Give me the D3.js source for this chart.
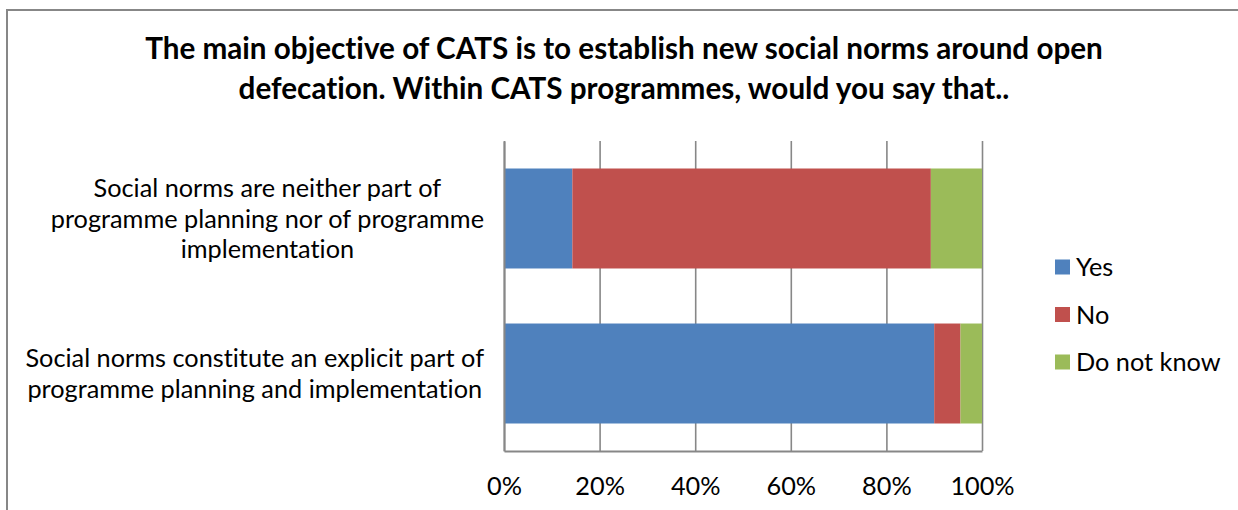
<!DOCTYPE html>
<html>
<head>
<meta charset="utf-8">
<script src="https://cdn.jsdelivr.net/npm/d3@7"></script>
<style>
  html, body { margin: 0; padding: 0; background: #ffffff; }
  svg { display: block; }
  text { font-family: Lato, "Open Sans", "Liberation Sans", sans-serif; fill: #000;
         font-variant-ligatures: none; font-feature-settings: "liga" 0, "clig" 0; }
</style>
</head>
<body>
<svg id="chart" width="1238" height="510"></svg>
<script>
// Survey answers, share of respondents per statement
const titleLines = [
  "The main objective of CATS is to establish new social norms around open",
  "defecation. Within CATS programmes, would you say that.."
];
const categories = [
  "Social norms are neither part of programme planning nor of programme implementation",
  "Social norms constitute an explicit part of programme planning and implementation"
];
const categoryLines = [
  ["Social norms are neither part of", "programme planning nor of programme", "implementation"],
  ["Social norms constitute an explicit part of", "programme planning and implementation"]
];
const seriesNames = ["Yes", "No", "Do not know"];
const seriesColors = ["#4F81BD", "#C0504D", "#9BBB59"];
const yesValues = [14.3, 90.0];
const noValues = [75.0, 5.5];
const dontKnowValues = [10.7, 4.5];
const tickValues = [0, 20, 40, 60, 80, 100];
const tickLabels = ["0%", "20%", "40%", "60%", "80%", "100%"];

const svg = d3.select("#chart");
const gridColor = "#878787";

// Plot area
const plot = { left: 504, right: 982, top: 141, bottom: 451 };

// Font size that makes a string span the given width
function fitSize(str, weight, width) {
  const t = svg.append("text").attr("font-size", 100).attr("font-weight", weight).text(str);
  const w = t.node().getComputedTextLength();
  t.remove();
  return 100 * width / w;
}
const bodySize = fitSize("programme planning and implementation", "normal", 455);
const titleSize = fitSize(titleLines[0], "bold", 958);

// Chart border
svg.append("rect")
  .attr("x", 7).attr("y", 10)
  .attr("width", 1300).attr("height", 600)
  .attr("fill", "none").attr("stroke", gridColor).attr("stroke-width", 2);

// Title
svg.append("g").selectAll("text")
  .data(titleLines)
  .join("text")
  .attr("x", 624)
  .attr("y", (d, i) => 59 + i * 40)
  .attr("text-anchor", "middle")
  .attr("font-weight", "bold")
  .attr("font-size", titleSize)
  .text(d => d);

const x = d3.scaleLinear().domain([0, 100]).range([plot.left, plot.right]);
const y = d3.scaleBand()
  .domain(categories)
  .range([plot.top, plot.bottom])
  .paddingInner(0.355)
  .paddingOuter(0.1774);

// Gridlines and bottom axis
const xAxis = d3.axisBottom(x)
  .tickValues(tickValues)
  .tickFormat((d, i) => tickLabels[i])
  .tickSize(-(plot.bottom - plot.top))
  .tickSizeOuter(0);

const gx = svg.append("g")
  .attr("transform", `translate(0,${plot.bottom})`)
  .call(xAxis);
gx.select(".domain").attr("stroke", gridColor).attr("stroke-width", 2);
gx.selectAll(".tick line").attr("stroke", gridColor).attr("stroke-width", 1.6);
gx.selectAll(".tick text")
  .attr("y", 44).attr("dy", 0)
  .attr("font-size", bodySize)
  .attr("font-family", "Lato, 'Open Sans', sans-serif")
  .attr("fill", "#000");

// Stacked bars
const rows = categories.map((c, i) => ({
  category: c,
  values: [yesValues[i], noValues[i], dontKnowValues[i]]
}));
const stack = d3.stack().keys([0, 1, 2]).value((d, k) => d.values[k]);
const layers = stack(rows);

svg.append("g").selectAll("g")
  .data(layers)
  .join("g")
  .attr("fill", (d, i) => seriesColors[i])
  .selectAll("rect")
  .data(d => d)
  .join("rect")
  .attr("x", d => x(d[0]))
  .attr("width", d => x(d[1]) - x(d[0]))
  .attr("y", d => y(d.data.category))
  .attr("height", y.bandwidth());

// Left axis line
const gy = svg.append("g")
  .attr("transform", `translate(${plot.left},0)`)
  .call(d3.axisLeft(y).tickSize(0).tickFormat(""));
gy.select(".domain").attr("stroke", gridColor).attr("stroke-width", 2);

// Category labels: each block centred, widest line ending near the axis
const lineH = bodySize * 1.22;
const labelGroup = svg.append("g");
categories.forEach((c, i) => {
  const lines = categoryLines[i];
  const g = labelGroup.append("g").attr("font-size", bodySize);
  const texts = g.selectAll("text")
    .data(lines)
    .join("text")
    .attr("text-anchor", "middle")
    .attr("y", (d, j) => y(c) + y.bandwidth() / 2 + (j - (lines.length - 1) / 2) * lineH)
    .attr("dy", "0.36em")
    .text(d => d);
  const maxW = d3.max(texts.nodes(), n => n.getComputedTextLength());
  texts.attr("x", plot.left - 20 - maxW / 2);
});

// Legend
const legend = svg.append("g").attr("transform", "translate(1055,267)");
const item = legend.selectAll("g")
  .data(seriesNames)
  .join("g")
  .attr("transform", (d, i) => `translate(0,${i * 47.5})`);
item.append("rect")
  .attr("x", 0).attr("y", -7.5)
  .attr("width", 15).attr("height", 15)
  .attr("fill", (d, i) => seriesColors[i]);
item.append("text")
  .attr("x", 21)
  .attr("dy", "0.36em")
  .attr("font-size", bodySize)
  .text(d => d);
</script>
</body>
</html>
